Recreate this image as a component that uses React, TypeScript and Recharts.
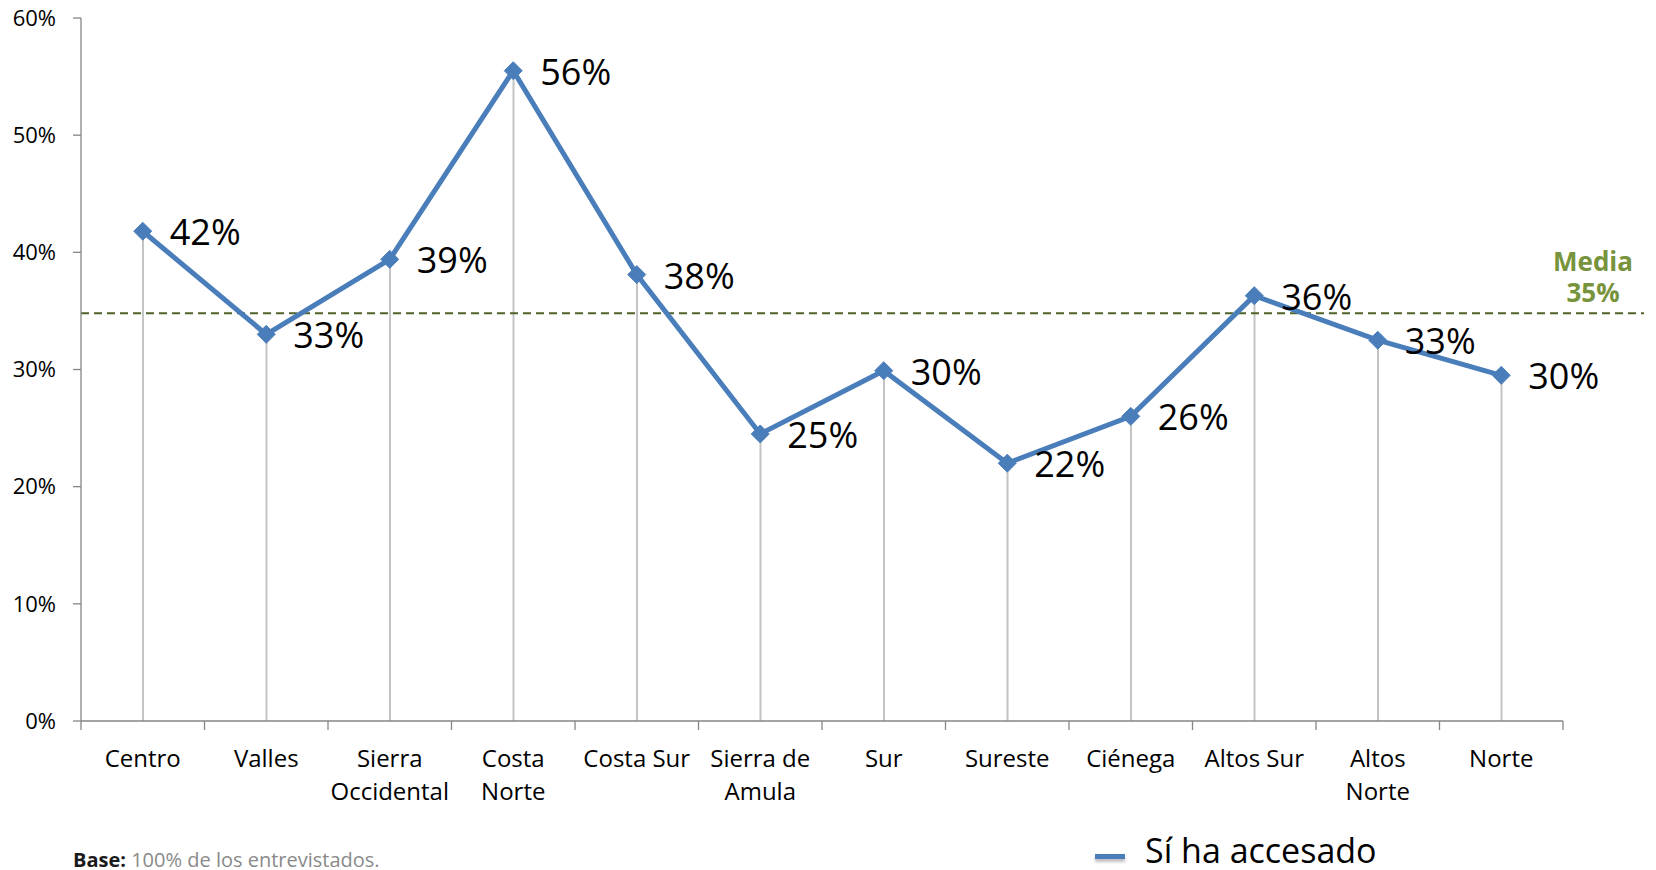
import React from 'react';
import {
  ComposedChart,
  Line,
  Bar,
  XAxis,
  YAxis,
  ReferenceLine,
  LabelList,
  Legend,
} from 'recharts';

const regions = [
  'Centro',
  'Valles',
  'Sierra\nOccidental',
  'Costa\nNorte',
  'Costa Sur',
  'Sierra de\nAmula',
  'Sur',
  'Sureste',
  'Ciénega',
  'Altos Sur',
  'Altos\nNorte',
  'Norte',
];
const accessed = [41.8, 33.0, 39.4, 55.5, 38.1, 24.5, 29.9, 22.0, 26.0, 36.3, 32.5, 29.5];
const yTicks = [0, 10, 20, 30, 40, 50, 60];
const mediaValue = 34.8;
const seriesName = 'Sí ha accesado';

const data = regions.map((region, i) => ({ region, value: accessed[i] }));

const FONT = '"Open Sans", "Noto Sans", sans-serif';
const BLUE = '#4A7EBB';
const AXIS = '#868686';

function RegionTick(props: any) {
  const { x, y, payload, index, visibleTicksCount } = props;
  const half = payload?.offset ?? 0;
  const lines = String(payload.value).split('\n');
  return (
    <g>
      <line x1={x - half} y1={y} x2={x - half} y2={y + 9} stroke={AXIS} strokeWidth={1.3} />
      {index === visibleTicksCount - 1 && (
        <line x1={x + half} y1={y} x2={x + half} y2={y + 9} stroke={AXIS} strokeWidth={1.3} />
      )}
      <text x={x} y={y} textAnchor="middle" fontSize={24} fontFamily={FONT} fill="#000">
        {lines.map((l, i) => (
          <tspan key={i} x={x} y={y + 46 + i * 33}>
            {l}
          </tspan>
        ))}
      </text>
    </g>
  );
}

function Diamond(props: any) {
  const { cx, cy } = props;
  if (cx == null || cy == null) return null;
  const r = 9;
  return (
    <polygon
      points={`${cx},${cy - r} ${cx + r},${cy} ${cx},${cy + r} ${cx - r},${cy}`}
      fill={BLUE}
      stroke={BLUE}
    />
  );
}

function ValueLabel(props: any) {
  const { x, y, value } = props;
  return (
    <text x={x + 27} y={y + 14} fontSize={36} fontFamily={FONT} fill="#000">
      {Math.round(value)}%
    </text>
  );
}

function MediaLabel(props: any) {
  const { viewBox } = props;
  const cx = viewBox.x + viewBox.width + 30;
  return (
    <text textAnchor="middle" fontSize={26} fontWeight={700} fontFamily={FONT} fill="#77933C">
      <tspan x={cx} y={viewBox.y - 42}>Media</tspan>
      <tspan x={cx} y={viewBox.y - 11}>{Math.round(mediaValue)}%</tspan>
    </text>
  );
}

function LegendContent() {
  return (
    <div style={{ display: 'flex', alignItems: 'center', height: 46, fontFamily: FONT }}>
      <div
        style={{
          width: 30,
          height: 5,
          background: BLUE,
          marginTop: 12,
          boxShadow: '0 3px 3px rgba(0,0,0,0.25)',
        }}
      />
      <span style={{ fontSize: 34, lineHeight: '46px', marginLeft: 20, color: '#000' }}>
        {seriesName}
      </span>
    </div>
  );
}

export default function App() {
  return (
    <div
      style={{
        position: 'absolute',
        left: 0,
        top: 0,
        width: 1656,
        height: 870,
        overflow: 'hidden',
        background: '#fff',
      }}
    >
      <ComposedChart
        width={1656}
        height={870}
        data={data}
        margin={{ top: 18, right: 93, bottom: 49, left: 0 }}
      >
        <XAxis
          dataKey="region"
          scale="band"
          interval={0}
          height={100}
          tickSize={0}
          tickMargin={0}
          tickLine={false}
          axisLine={{ stroke: AXIS, strokeWidth: 1.3 }}
          tick={<RegionTick />}
        />
        <YAxis
          width={81}
          domain={[0, 60]}
          ticks={yTicks}
          interval={0}
          tickSize={8}
          tickMargin={17}
          tickFormatter={(v) => `${v}%`}
          axisLine={{ stroke: AXIS, strokeWidth: 1.3 }}
          tickLine={{ stroke: AXIS, strokeWidth: 1.3 }}
          tick={{ fontSize: 22, fontFamily: FONT, fill: '#000' }}
        />
        <Bar dataKey="value" barSize={2} fill="#C4C4C4" isAnimationActive={false} legendType="none" />
        <ReferenceLine
          y={mediaValue}
          stroke="#4F6228"
          strokeWidth={2}
          strokeDasharray="8 5"
          shape={(p: any) => (
            <line
              x1={p.x1}
              y1={p.y1}
              x2={p.x2 + 81}
              y2={p.y2}
              stroke="#4F6228"
              strokeWidth={2}
              strokeDasharray="8 5"
            />
          )}
          label={<MediaLabel />}
        />
        <Line
          dataKey="value"
          name={seriesName}
          stroke={BLUE}
          strokeWidth={5}
          dot={<Diamond />}
          activeDot={false}
          isAnimationActive={false}
        >
          <LabelList dataKey="value" content={<ValueLabel />} />
        </Line>
        <Legend
          layout="horizontal"
          verticalAlign="middle"
          align="center"
          content={<LegendContent />}
          wrapperStyle={{ left: 1095, top: 827, width: 400, height: 46 }}
        />
      </ComposedChart>
      <div
        style={{
          position: 'absolute',
          left: 73,
          top: 846,
          fontSize: 20,
          lineHeight: '28px',
          fontFamily: FONT,
          whiteSpace: 'nowrap',
        }}
      >
        <span style={{ fontWeight: 700, color: '#1a1a1a' }}>Base:</span>
        <span style={{ color: '#8a8a8a' }}> 100% de los entrevistados.</span>
      </div>
    </div>
  );
}
